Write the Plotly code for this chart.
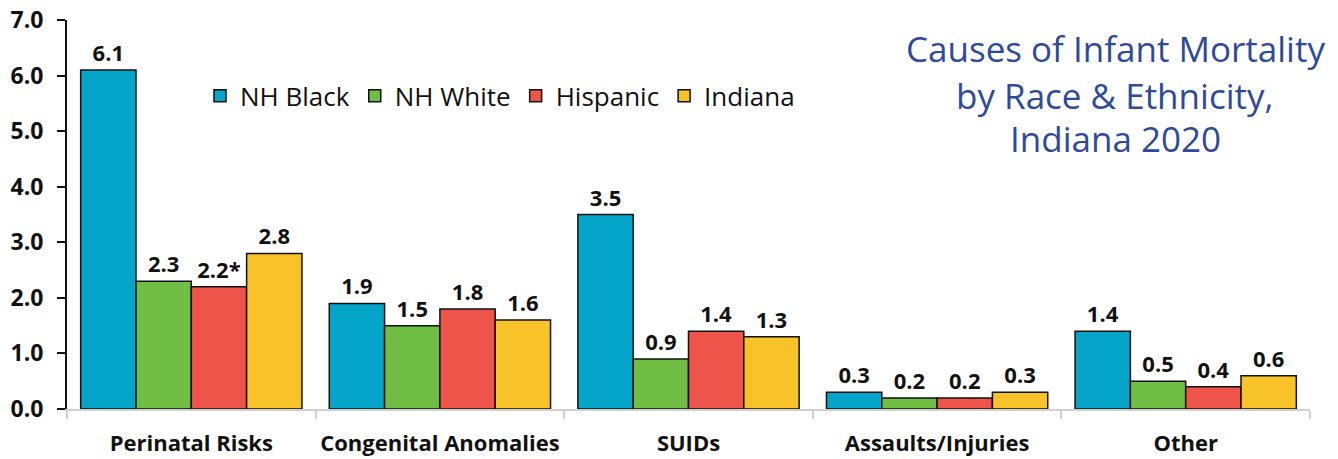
import plotly.graph_objects as go

categories = ["Perinatal Risks", "Congenital Anomalies", "SUIDs", "Assaults/Injuries", "Other"]
series_names = ["NH Black", "NH White", "Hispanic", "Indiana"]
nh_black = [6.1, 1.9, 3.5, 0.3, 1.4]
nh_white = [2.3, 1.5, 0.9, 0.2, 0.5]
hispanic = [2.2, 1.8, 1.4, 0.2, 0.4]
indiana = [2.8, 1.6, 1.3, 0.3, 0.6]
label_notes = {"Hispanic": {0: "*"}}
y_ticks = [0, 1, 2, 3, 4, 5, 6, 7]
title_lines = ["Causes of Infant Mortality", "by Race &amp; Ethnicity,", "Indiana 2020"]

colors = ["#05A5C9", "#70BF44", "#EE5449", "#F8C329"]
values = [nh_black, nh_white, hispanic, indiana]

fig = go.Figure()
for name, vals, col in zip(series_names, values, colors):
    notes = label_notes.get(name, {})
    texts = [f"{v:.1f}" + notes.get(i, "") for i, v in enumerate(vals)]
    fig.add_trace(go.Bar(
        x=categories, y=vals, name=name,
        marker=dict(color=col, line=dict(color="#111111", width=1.5)),
        text=texts, textposition="outside", cliponaxis=False,
        textfont=dict(family="Open Sans", size=22, color="#111111", weight="bold"),
    ))

# page body has an 8px margin, so the figure is offset by 8px right/down
fig.update_layout(
    barmode="group", bargap=0.11, bargroupgap=0,
    width=1330, height=451,
    margin=dict(l=59, r=28, t=12, b=50, autoexpand=False),
    plot_bgcolor="white", paper_bgcolor="white",
    font=dict(family="Open Sans", color="#111111"),
    legend=dict(orientation="h", x=0.107, y=0.805, xanchor="left", yanchor="middle",
                font=dict(size=26, family="Open Sans", color="#111111"),
                bgcolor="rgba(0,0,0,0)", itemwidth=30, traceorder="normal"),
    uniformtext=dict(mode=False),
)
fig.update_yaxes(range=[0, 7], tickvals=y_ticks, tickformat=".1f", automargin=False,
                 showline=True, linecolor="#111111", linewidth=2,
                 ticks="outside", ticklen=8, tickcolor="#111111", tickwidth=1.5,
                 showgrid=False, zeroline=False, ticklabelstandoff=9,
                 ticklabeloverflow="allow",
                 tickfont=dict(size=23, family="Open Sans", weight="bold"))
fig.update_xaxes(showline=True, linecolor="#D0D0D0", linewidth=2, automargin=False,
                 ticks="outside", tickson="boundaries", ticklen=8, tickcolor="#D0D0D0", tickwidth=2,
                 showgrid=False, ticklabelstandoff=14, tickangle=0,
                 ticklabeloverflow="allow",
                 tickfont=dict(size=22, family="Open Sans", weight="bold"))
title_y = [48, 95, 138]
for line, ypx in zip(title_lines, title_y):
    fig.add_annotation(
        text=line, xref="paper", yref="paper",
        x=(1115 - 67) / 1243, y=(409 - ypx) / 389, xanchor="center", yanchor="middle",
        showarrow=False, align="center",
        font=dict(family="Open Sans", size=35, color="#2E4A9B"),
    )
fig.write_html("out.html")
